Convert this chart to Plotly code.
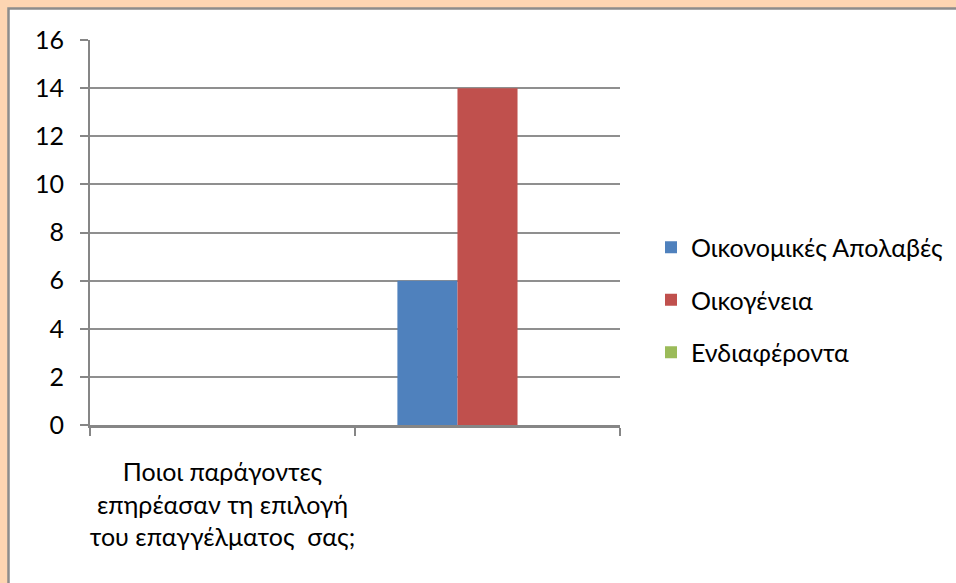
import plotly.graph_objects as go

categories = ["Ποιοι παράγοντες<br>επηρέασαν τη επιλογή<br>του επαγγέλματος  σας;", " "]
series_names = ["Οικονομικές Απολαβές", "Οικογένεια", "Ενδιαφέροντα"]
series_values = [
    [0, 6],
    [0, 14],
    [0, 0],
]
series_colors = ["#4f81bd", "#c0504d", "#9bbb59"]
y_ticks = [0, 2, 4, 6, 8, 10, 12, 14, 16]

FONT = "Lato, 'Noto Sans', sans-serif"

fig = go.Figure()
for i, (name, vals, col) in enumerate(zip(series_names, series_values, series_colors)):
    fig.add_trace(go.Bar(x=categories, y=vals, name=name, marker_color=col,
                         marker_line_width=0, legendgroup=f"g{i}"))

W, H = 956, 583
L, R, T, B = 90, 336, 40, 158
pw, ph = W - L - R, H - T - B

def px_x(p):
    return (p - L) / pw

def px_y(p):
    return (H - B - p) / ph

fig.add_shape(type="rect", xref="paper", yref="paper",
              x0=px_x(8.5), x1=px_x(1100), y0=px_y(8.5), y1=px_y(700),
              fillcolor="white", line=dict(color="#8c8c8c", width=2.5), layer="below")

fig.update_layout(
    width=W, height=H,
    margin=dict(l=L, r=R, t=T, b=B, pad=0, autoexpand=False),
    paper_bgcolor="#fdd5b2",
    plot_bgcolor="white",
    barmode="group",
    bargap=0.32,
    bargroupgap=0,
    font=dict(family=FONT, size=25, color="black"),
    legend=dict(x=px_x(651), y=px_y(300), xanchor="left", yanchor="middle",
                font=dict(size=25), tracegroupgap=17, bgcolor="rgba(0,0,0,0)",
                itemwidth=30),
    showlegend=True,
)
fig.update_xaxes(
    type="category", tickson="boundaries", ticks="outside", ticklen=8,
    tickcolor="#868686", tickwidth=2, showline=True, linecolor="#868686", linewidth=3,
    showgrid=False, tickfont=dict(size=25), ticklabelstandoff=23,
    tickangle=0, automargin=False,
)
fig.update_yaxes(
    range=[0, 16], tickvals=y_ticks, ticks="outside", ticklen=8, tickcolor="#868686",
    tickwidth=2, showline=True, linecolor="#868686", linewidth=2,
    showgrid=True, gridcolor="#8f8f8f", gridwidth=1.6, zeroline=False,
    tickfont=dict(size=25), ticklabelstandoff=11, automargin=False,
)

fig.write_html("out.html", config={"displayModeBar": False},
               post_script="document.body.style.margin='0';document.body.style.overflow='hidden';")
